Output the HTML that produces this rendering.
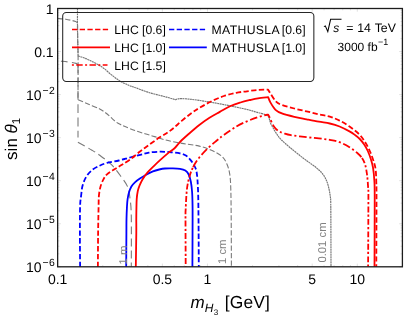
<!DOCTYPE html>
<html><head><meta charset="utf-8"><title>plot</title>
<style>html,body{margin:0;padding:0;background:#fff}body{width:407px;height:317px;overflow:hidden}</style>
</head><body>
<svg width="407" height="317" viewBox="0 0 407 317" style="display:block;font-family:'Liberation Sans',sans-serif;text-rendering:geometricPrecision;will-change:transform;transform:translateZ(0)">
<rect width="407" height="317" fill="#fff"/>
<defs><clipPath id="pc"><rect x="57.65" y="8.50" width="344.75" height="258.30"/></clipPath></defs>
<g stroke="#d9d9d9" stroke-width="0.8"><line x1="57.65" y1="266.8" x2="57.65" y2="263.6"/><line x1="57.65" y1="8.5" x2="57.65" y2="11.7"/><line x1="102.75" y1="266.8" x2="102.75" y2="265.0"/><line x1="102.75" y1="8.5" x2="102.75" y2="10.3"/><line x1="129.13" y1="266.8" x2="129.13" y2="265.0"/><line x1="129.13" y1="8.5" x2="129.13" y2="10.3"/><line x1="147.85" y1="266.8" x2="147.85" y2="265.0"/><line x1="147.85" y1="8.5" x2="147.85" y2="10.3"/><line x1="162.37" y1="266.8" x2="162.37" y2="263.6"/><line x1="162.37" y1="8.5" x2="162.37" y2="11.7"/><line x1="174.24" y1="266.8" x2="174.24" y2="265.0"/><line x1="174.24" y1="8.5" x2="174.24" y2="10.3"/><line x1="184.27" y1="266.8" x2="184.27" y2="265.0"/><line x1="184.27" y1="8.5" x2="184.27" y2="10.3"/><line x1="192.95" y1="266.8" x2="192.95" y2="265.0"/><line x1="192.95" y1="8.5" x2="192.95" y2="10.3"/><line x1="200.62" y1="266.8" x2="200.62" y2="265.0"/><line x1="200.62" y1="8.5" x2="200.62" y2="10.3"/><line x1="207.47" y1="266.8" x2="207.47" y2="263.6"/><line x1="207.47" y1="8.5" x2="207.47" y2="11.7"/><line x1="252.58" y1="266.8" x2="252.58" y2="265.0"/><line x1="252.58" y1="8.5" x2="252.58" y2="10.3"/><line x1="278.96" y1="266.8" x2="278.96" y2="265.0"/><line x1="278.96" y1="8.5" x2="278.96" y2="10.3"/><line x1="297.68" y1="266.8" x2="297.68" y2="265.0"/><line x1="297.68" y1="8.5" x2="297.68" y2="10.3"/><line x1="312.20" y1="266.8" x2="312.20" y2="263.6"/><line x1="312.20" y1="8.5" x2="312.20" y2="11.7"/><line x1="324.06" y1="266.8" x2="324.06" y2="265.0"/><line x1="324.06" y1="8.5" x2="324.06" y2="10.3"/><line x1="334.09" y1="266.8" x2="334.09" y2="265.0"/><line x1="334.09" y1="8.5" x2="334.09" y2="10.3"/><line x1="342.78" y1="266.8" x2="342.78" y2="265.0"/><line x1="342.78" y1="8.5" x2="342.78" y2="10.3"/><line x1="350.44" y1="266.8" x2="350.44" y2="265.0"/><line x1="350.44" y1="8.5" x2="350.44" y2="10.3"/><line x1="357.30" y1="266.8" x2="357.30" y2="263.6"/><line x1="357.30" y1="8.5" x2="357.30" y2="11.7"/><line x1="402.40" y1="266.8" x2="402.40" y2="265.0"/><line x1="402.40" y1="8.5" x2="402.40" y2="10.3"/><line x1="57.65" y1="8.50" x2="60.85" y2="8.50"/><line x1="402.4" y1="8.50" x2="399.2" y2="8.50"/><line x1="57.65" y1="38.59" x2="59.449999999999996" y2="38.59"/><line x1="402.4" y1="38.59" x2="400.59999999999997" y2="38.59"/><line x1="57.65" y1="31.01" x2="59.449999999999996" y2="31.01"/><line x1="402.4" y1="31.01" x2="400.59999999999997" y2="31.01"/><line x1="57.65" y1="25.63" x2="59.449999999999996" y2="25.63"/><line x1="402.4" y1="25.63" x2="400.59999999999997" y2="25.63"/><line x1="57.65" y1="21.46" x2="59.449999999999996" y2="21.46"/><line x1="402.4" y1="21.46" x2="400.59999999999997" y2="21.46"/><line x1="57.65" y1="18.05" x2="59.449999999999996" y2="18.05"/><line x1="402.4" y1="18.05" x2="400.59999999999997" y2="18.05"/><line x1="57.65" y1="15.17" x2="59.449999999999996" y2="15.17"/><line x1="402.4" y1="15.17" x2="400.59999999999997" y2="15.17"/><line x1="57.65" y1="12.67" x2="59.449999999999996" y2="12.67"/><line x1="402.4" y1="12.67" x2="400.59999999999997" y2="12.67"/><line x1="57.65" y1="10.47" x2="59.449999999999996" y2="10.47"/><line x1="402.4" y1="10.47" x2="400.59999999999997" y2="10.47"/><line x1="57.65" y1="51.55" x2="60.85" y2="51.55"/><line x1="402.4" y1="51.55" x2="399.2" y2="51.55"/><line x1="57.65" y1="81.64" x2="59.449999999999996" y2="81.64"/><line x1="402.4" y1="81.64" x2="400.59999999999997" y2="81.64"/><line x1="57.65" y1="74.06" x2="59.449999999999996" y2="74.06"/><line x1="402.4" y1="74.06" x2="400.59999999999997" y2="74.06"/><line x1="57.65" y1="68.68" x2="59.449999999999996" y2="68.68"/><line x1="402.4" y1="68.68" x2="400.59999999999997" y2="68.68"/><line x1="57.65" y1="64.51" x2="59.449999999999996" y2="64.51"/><line x1="402.4" y1="64.51" x2="400.59999999999997" y2="64.51"/><line x1="57.65" y1="61.10" x2="59.449999999999996" y2="61.10"/><line x1="402.4" y1="61.10" x2="400.59999999999997" y2="61.10"/><line x1="57.65" y1="58.22" x2="59.449999999999996" y2="58.22"/><line x1="402.4" y1="58.22" x2="400.59999999999997" y2="58.22"/><line x1="57.65" y1="55.72" x2="59.449999999999996" y2="55.72"/><line x1="402.4" y1="55.72" x2="400.59999999999997" y2="55.72"/><line x1="57.65" y1="53.52" x2="59.449999999999996" y2="53.52"/><line x1="402.4" y1="53.52" x2="400.59999999999997" y2="53.52"/><line x1="57.65" y1="94.60" x2="60.85" y2="94.60"/><line x1="402.4" y1="94.60" x2="399.2" y2="94.60"/><line x1="57.65" y1="124.69" x2="59.449999999999996" y2="124.69"/><line x1="402.4" y1="124.69" x2="400.59999999999997" y2="124.69"/><line x1="57.65" y1="117.11" x2="59.449999999999996" y2="117.11"/><line x1="402.4" y1="117.11" x2="400.59999999999997" y2="117.11"/><line x1="57.65" y1="111.73" x2="59.449999999999996" y2="111.73"/><line x1="402.4" y1="111.73" x2="400.59999999999997" y2="111.73"/><line x1="57.65" y1="107.56" x2="59.449999999999996" y2="107.56"/><line x1="402.4" y1="107.56" x2="400.59999999999997" y2="107.56"/><line x1="57.65" y1="104.15" x2="59.449999999999996" y2="104.15"/><line x1="402.4" y1="104.15" x2="400.59999999999997" y2="104.15"/><line x1="57.65" y1="101.27" x2="59.449999999999996" y2="101.27"/><line x1="402.4" y1="101.27" x2="400.59999999999997" y2="101.27"/><line x1="57.65" y1="98.77" x2="59.449999999999996" y2="98.77"/><line x1="402.4" y1="98.77" x2="400.59999999999997" y2="98.77"/><line x1="57.65" y1="96.57" x2="59.449999999999996" y2="96.57"/><line x1="402.4" y1="96.57" x2="400.59999999999997" y2="96.57"/><line x1="57.65" y1="137.65" x2="60.85" y2="137.65"/><line x1="402.4" y1="137.65" x2="399.2" y2="137.65"/><line x1="57.65" y1="167.74" x2="59.449999999999996" y2="167.74"/><line x1="402.4" y1="167.74" x2="400.59999999999997" y2="167.74"/><line x1="57.65" y1="160.16" x2="59.449999999999996" y2="160.16"/><line x1="402.4" y1="160.16" x2="400.59999999999997" y2="160.16"/><line x1="57.65" y1="154.78" x2="59.449999999999996" y2="154.78"/><line x1="402.4" y1="154.78" x2="400.59999999999997" y2="154.78"/><line x1="57.65" y1="150.61" x2="59.449999999999996" y2="150.61"/><line x1="402.4" y1="150.61" x2="400.59999999999997" y2="150.61"/><line x1="57.65" y1="147.20" x2="59.449999999999996" y2="147.20"/><line x1="402.4" y1="147.20" x2="400.59999999999997" y2="147.20"/><line x1="57.65" y1="144.32" x2="59.449999999999996" y2="144.32"/><line x1="402.4" y1="144.32" x2="400.59999999999997" y2="144.32"/><line x1="57.65" y1="141.82" x2="59.449999999999996" y2="141.82"/><line x1="402.4" y1="141.82" x2="400.59999999999997" y2="141.82"/><line x1="57.65" y1="139.62" x2="59.449999999999996" y2="139.62"/><line x1="402.4" y1="139.62" x2="400.59999999999997" y2="139.62"/><line x1="57.65" y1="180.70" x2="60.85" y2="180.70"/><line x1="402.4" y1="180.70" x2="399.2" y2="180.70"/><line x1="57.65" y1="210.79" x2="59.449999999999996" y2="210.79"/><line x1="402.4" y1="210.79" x2="400.59999999999997" y2="210.79"/><line x1="57.65" y1="203.21" x2="59.449999999999996" y2="203.21"/><line x1="402.4" y1="203.21" x2="400.59999999999997" y2="203.21"/><line x1="57.65" y1="197.83" x2="59.449999999999996" y2="197.83"/><line x1="402.4" y1="197.83" x2="400.59999999999997" y2="197.83"/><line x1="57.65" y1="193.66" x2="59.449999999999996" y2="193.66"/><line x1="402.4" y1="193.66" x2="400.59999999999997" y2="193.66"/><line x1="57.65" y1="190.25" x2="59.449999999999996" y2="190.25"/><line x1="402.4" y1="190.25" x2="400.59999999999997" y2="190.25"/><line x1="57.65" y1="187.37" x2="59.449999999999996" y2="187.37"/><line x1="402.4" y1="187.37" x2="400.59999999999997" y2="187.37"/><line x1="57.65" y1="184.87" x2="59.449999999999996" y2="184.87"/><line x1="402.4" y1="184.87" x2="400.59999999999997" y2="184.87"/><line x1="57.65" y1="182.67" x2="59.449999999999996" y2="182.67"/><line x1="402.4" y1="182.67" x2="400.59999999999997" y2="182.67"/><line x1="57.65" y1="223.75" x2="60.85" y2="223.75"/><line x1="402.4" y1="223.75" x2="399.2" y2="223.75"/><line x1="57.65" y1="253.84" x2="59.449999999999996" y2="253.84"/><line x1="402.4" y1="253.84" x2="400.59999999999997" y2="253.84"/><line x1="57.65" y1="246.26" x2="59.449999999999996" y2="246.26"/><line x1="402.4" y1="246.26" x2="400.59999999999997" y2="246.26"/><line x1="57.65" y1="240.88" x2="59.449999999999996" y2="240.88"/><line x1="402.4" y1="240.88" x2="400.59999999999997" y2="240.88"/><line x1="57.65" y1="236.71" x2="59.449999999999996" y2="236.71"/><line x1="402.4" y1="236.71" x2="400.59999999999997" y2="236.71"/><line x1="57.65" y1="233.30" x2="59.449999999999996" y2="233.30"/><line x1="402.4" y1="233.30" x2="400.59999999999997" y2="233.30"/><line x1="57.65" y1="230.42" x2="59.449999999999996" y2="230.42"/><line x1="402.4" y1="230.42" x2="400.59999999999997" y2="230.42"/><line x1="57.65" y1="227.92" x2="59.449999999999996" y2="227.92"/><line x1="402.4" y1="227.92" x2="400.59999999999997" y2="227.92"/><line x1="57.65" y1="225.72" x2="59.449999999999996" y2="225.72"/><line x1="402.4" y1="225.72" x2="400.59999999999997" y2="225.72"/><line x1="57.65" y1="266.80" x2="60.85" y2="266.80"/><line x1="402.4" y1="266.80" x2="399.2" y2="266.80"/></g>
<g clip-path="url(#pc)">
<path d="M77.50 8.50 C77.50 12.08 77.40 22.08 77.50 30.00 C77.60 37.92 78.00 51.67 78.10 56.00 C79.25 56.38 82.37 57.23 85.00 58.30 C87.63 59.37 90.93 60.85 93.90 62.40 C96.87 63.95 99.83 65.50 102.80 67.60 C105.77 69.70 108.73 72.70 111.70 75.00 C114.67 77.30 117.65 79.65 120.60 81.40 C123.55 83.15 126.78 84.40 129.40 85.50 C132.02 86.60 132.95 86.80 136.30 88.00 C139.65 89.20 144.85 91.28 149.50 92.70 C154.15 94.12 159.90 95.35 164.20 96.50 C168.50 97.65 173.45 99.08 175.30 99.60 C176.42 99.43 178.00 98.47 182.00 98.60 C186.00 98.73 192.32 99.40 199.30 100.40 C206.28 101.40 215.95 103.08 223.90 104.60 C231.85 106.12 241.43 108.20 247.00 109.50 C252.57 110.80 254.35 111.58 257.30 112.40 C260.25 113.22 262.92 113.77 264.70 114.40 C266.48 115.03 267.22 115.40 268.00 116.20 C268.78 117.00 268.93 117.95 269.40 119.20 C269.87 120.45 269.93 121.80 270.80 123.70 C271.67 125.60 273.40 128.58 274.60 130.60 C275.80 132.62 276.85 134.23 278.00 135.80 C279.15 137.37 279.57 138.10 281.50 140.00 C283.43 141.90 286.20 144.35 289.60 147.20 C293.00 150.05 298.53 154.48 301.90 157.10 C305.27 159.72 307.45 161.17 309.80 162.90 C312.15 164.63 313.93 165.77 316.00 167.50 C318.07 169.23 320.53 171.30 322.20 173.30 C323.87 175.30 324.98 177.38 326.00 179.50 C327.02 181.62 327.58 183.17 328.30 186.00 C329.02 188.83 329.88 192.83 330.30 196.50 C330.72 200.17 330.68 196.27 330.80 208.00 C330.92 219.73 330.97 257.08 331.00 266.90" fill="none" stroke="#767676" stroke-width="1.15" stroke-dasharray="2.0 0.5" stroke-linejoin="round"/>
<path d="M57.70 18.50 C59.05 18.62 62.82 18.70 65.80 19.20 C68.78 19.70 73.63 20.78 75.60 21.50 C77.57 22.22 77.27 23.17 77.60 23.50 C77.62 26.25 77.62 34.58 77.70 40.00 C77.78 45.42 78.05 46.05 78.10 56.00 C78.15 65.95 78.02 92.42 78.00 99.70 C79.67 100.42 84.45 102.48 88.00 104.00 C91.55 105.52 96.38 107.35 99.30 108.80 C102.22 110.25 103.63 111.33 105.50 112.70 C107.37 114.07 108.87 115.55 110.50 117.00 C112.13 118.45 113.72 120.18 115.30 121.40 C116.88 122.62 118.37 123.43 120.00 124.30 C121.63 125.17 122.62 125.57 125.10 126.60 C127.58 127.63 131.58 129.30 134.90 130.50 C138.22 131.70 141.72 132.78 145.00 133.80 C148.28 134.82 151.30 135.60 154.60 136.60 C157.90 137.60 160.23 138.67 164.80 139.80 C169.37 140.93 176.25 142.35 182.00 143.40 C187.75 144.45 194.37 144.95 199.30 146.10 C204.23 147.25 207.82 148.57 211.60 150.30 C215.38 152.03 219.43 154.17 222.00 156.50 C224.57 158.83 225.70 161.30 227.00 164.30 C228.30 167.30 229.17 170.33 229.80 174.50 C230.43 178.67 230.57 182.05 230.80 189.30 C231.03 196.55 231.10 205.07 231.20 218.00 C231.30 230.93 231.37 258.75 231.40 266.90" fill="none" stroke="#7a7a7a" stroke-width="1.1" stroke-dasharray="5.3 2.2" stroke-linejoin="round"/>
<path d="M60.90 61.20 C61.98 61.32 64.88 61.53 67.40 61.90 C69.92 62.27 74.25 62.88 76.00 63.40 C77.75 63.92 77.58 64.73 77.90 65.00" fill="none" stroke="#7a7a7a" stroke-width="1.1" stroke-dasharray="8.8 4.4" stroke-linejoin="round" stroke-dashoffset="2.1"/>
<path d="M78.00 64.60 C78.00 76.77 78.00 125.43 78.00 137.60" fill="none" stroke="#7a7a7a" stroke-width="1.1" stroke-dasharray="8.8 4.4" stroke-linejoin="round"/>
<path d="M77.90 142.30 C80.25 143.62 88.43 148.08 92.00 150.20 C95.57 152.32 96.02 152.55 99.30 155.00 C102.58 157.45 108.00 161.20 111.70 164.90 C115.40 168.60 118.83 173.52 121.50 177.20 C124.17 180.88 126.27 183.32 127.70 187.00 C129.13 190.68 129.50 194.37 130.10 199.30 C130.70 204.23 131.10 205.33 131.30 216.60 C131.50 227.87 131.30 258.52 131.30 266.90" fill="none" stroke="#7a7a7a" stroke-width="1.1" stroke-dasharray="7.8 4.2" stroke-linejoin="round"/>
<path d="M80.10 266.90 C80.07 261.25 79.90 243.15 79.90 233.00 C79.90 222.85 79.90 212.18 80.10 206.00 C80.30 199.82 80.68 199.30 81.10 195.90 C81.52 192.50 81.73 188.80 82.60 185.60 C83.47 182.40 84.70 179.30 86.30 176.70 C87.90 174.10 89.98 171.83 92.20 170.00 C94.42 168.17 97.13 166.88 99.60 165.70 C102.07 164.52 103.78 163.77 107.00 162.90 C110.22 162.03 115.07 161.40 118.90 160.50 C122.73 159.60 126.28 158.48 130.00 157.50 C133.72 156.52 138.05 155.42 141.20 154.60 C144.35 153.78 145.88 153.08 148.90 152.60 C151.92 152.12 155.85 151.78 159.30 151.70 C162.75 151.62 166.15 151.82 169.60 152.10 C173.05 152.38 177.28 152.82 180.00 153.40 C182.72 153.98 184.17 154.53 185.90 155.60 C187.63 156.67 189.05 158.20 190.40 159.80 C191.75 161.40 192.97 163.17 194.00 165.20 C195.03 167.23 195.93 167.98 196.60 172.00 C197.27 176.02 197.68 181.63 198.00 189.30 C198.32 196.97 198.37 205.07 198.50 218.00 C198.63 230.93 198.75 258.75 198.80 266.90" fill="none" stroke="#0000ff" stroke-width="1.8" stroke-dasharray="5.3 2.45" stroke-linejoin="round"/>
<path d="M126.20 266.90 C126.23 261.25 126.35 240.98 126.40 233.00 C126.45 225.02 126.40 223.50 126.50 219.00 C126.60 214.50 126.82 209.32 127.00 206.00 C127.18 202.68 127.28 201.30 127.60 199.10 C127.92 196.90 128.27 194.90 128.90 192.80 C129.53 190.70 130.35 188.28 131.40 186.50 C132.45 184.72 133.72 183.47 135.20 182.10 C136.68 180.73 138.40 179.57 140.30 178.30 C142.20 177.03 144.50 175.65 146.60 174.50 C148.70 173.35 150.80 172.23 152.90 171.40 C155.00 170.57 157.20 169.98 159.20 169.50 C161.20 169.02 162.67 168.68 164.90 168.50 C167.13 168.32 170.08 168.33 172.60 168.40 C175.12 168.47 177.88 168.53 180.00 168.90 C182.12 169.27 183.85 169.67 185.30 170.60 C186.75 171.53 187.77 172.60 188.70 174.50 C189.63 176.40 190.33 179.08 190.90 182.00 C191.47 184.92 191.83 188.50 192.10 192.00 C192.37 195.50 192.42 198.67 192.50 203.00 C192.58 207.33 192.62 207.35 192.60 218.00 C192.58 228.65 192.43 258.75 192.40 266.90" fill="none" stroke="#0000ff" stroke-width="1.8" stroke-linejoin="round"/>
<path d="M97.90 266.90 C97.93 261.25 97.98 243.15 98.10 233.00 C98.22 222.85 98.47 212.18 98.60 206.00 C98.73 199.82 98.60 199.07 98.90 195.90 C99.20 192.73 99.67 189.72 100.40 187.00 C101.13 184.28 102.20 181.70 103.30 179.60 C104.40 177.50 105.15 176.12 107.00 174.40 C108.85 172.68 111.92 170.90 114.40 169.30 C116.88 167.70 119.30 166.42 121.90 164.80 C124.50 163.18 126.98 161.82 130.00 159.60 C133.02 157.38 136.85 153.93 140.00 151.50 C143.15 149.07 145.68 147.32 148.90 145.00 C152.12 142.68 156.10 139.73 159.30 137.60 C162.50 135.47 165.55 133.93 168.10 132.20 C170.65 130.47 172.28 129.13 174.60 127.20 C176.92 125.27 179.12 123.00 182.00 120.60 C184.88 118.20 189.02 114.90 191.90 112.80 C194.78 110.70 196.02 109.93 199.30 108.00 C202.58 106.07 207.50 103.20 211.60 101.20 C215.70 99.20 219.80 97.40 223.90 96.00 C228.00 94.60 232.35 93.58 236.20 92.80 C240.05 92.02 243.37 91.78 247.00 91.30 C250.63 90.82 254.50 90.18 258.00 89.90 C261.50 89.62 266.33 89.65 268.00 89.60 C268.42 90.27 269.20 91.65 270.50 93.60 C271.80 95.55 273.90 99.40 275.80 101.30 C277.70 103.20 278.82 103.80 281.90 105.00 C284.98 106.20 290.18 107.43 294.30 108.50 C298.42 109.57 302.50 110.43 306.60 111.40 C310.70 112.37 315.03 113.42 318.90 114.30 C322.77 115.18 326.35 115.65 329.80 116.70 C333.25 117.75 336.32 118.97 339.60 120.60 C342.88 122.23 346.22 124.20 349.50 126.50 C352.78 128.80 356.68 131.78 359.30 134.40 C361.92 137.02 363.45 139.43 365.20 142.20 C366.95 144.97 368.47 148.03 369.80 151.00 C371.13 153.97 372.23 156.95 373.20 160.00 C374.17 163.05 375.08 165.53 375.60 169.30 C376.12 173.07 376.15 177.98 376.30 182.60 C376.45 187.22 376.50 182.95 376.50 197.00 C376.50 211.05 376.33 255.25 376.30 266.90" fill="none" stroke="#ff0000" stroke-width="1.8" stroke-dasharray="5.3 2.45" stroke-linejoin="round"/>
<path d="M135.80 266.90 C135.88 261.25 136.22 241.38 136.30 233.00 C136.38 224.62 136.23 222.25 136.30 216.60 C136.37 210.95 136.45 203.37 136.70 199.10 C136.95 194.83 137.32 193.30 137.80 191.00 C138.28 188.70 138.77 187.32 139.60 185.30 C140.43 183.28 141.43 181.08 142.80 178.90 C144.17 176.72 145.92 174.38 147.80 172.20 C149.68 170.02 152.10 167.77 154.10 165.80 C156.10 163.83 157.47 162.52 159.80 160.40 C162.13 158.28 165.60 155.17 168.10 153.10 C170.60 151.03 172.82 149.85 174.80 148.00 C176.78 146.15 177.65 144.37 180.00 142.00 C182.35 139.63 185.68 136.63 188.90 133.80 C192.12 130.97 195.87 127.67 199.30 125.00 C202.73 122.33 206.08 119.98 209.50 117.80 C212.92 115.62 216.38 113.83 219.80 111.90 C223.22 109.97 226.57 107.77 230.00 106.20 C233.43 104.63 237.07 103.53 240.40 102.50 C243.73 101.47 247.07 100.70 250.00 100.00 C252.93 99.30 254.97 98.78 258.00 98.30 C261.03 97.82 266.50 97.30 268.20 97.10 C268.58 98.02 269.28 100.48 270.50 102.60 C271.72 104.72 273.60 108.00 275.50 109.80 C277.40 111.60 278.77 112.23 281.90 113.40 C285.03 114.57 290.18 115.82 294.30 116.80 C298.42 117.78 302.50 118.48 306.60 119.30 C310.70 120.12 315.03 121.00 318.90 121.70 C322.77 122.40 326.35 122.70 329.80 123.50 C333.25 124.30 336.32 125.18 339.60 126.50 C342.88 127.82 346.93 129.98 349.50 131.40 C352.07 132.82 353.28 133.73 355.00 135.00 C356.72 136.27 358.27 137.42 359.80 139.00 C361.33 140.58 362.87 142.50 364.20 144.50 C365.53 146.50 366.68 148.53 367.80 151.00 C368.92 153.47 370.03 156.55 370.90 159.30 C371.77 162.05 372.43 164.05 373.00 167.50 C373.57 170.95 374.02 175.08 374.30 180.00 C374.58 184.92 374.67 182.52 374.70 197.00 C374.73 211.48 374.53 255.25 374.50 266.90" fill="none" stroke="#ff0000" stroke-width="1.8" stroke-linejoin="round"/>
<path d="M185.70 266.90 C185.67 258.75 185.50 227.65 185.50 218.00 C185.50 208.35 185.47 213.78 185.70 209.00 C185.93 204.22 186.28 194.65 186.90 189.30 C187.52 183.95 188.37 180.60 189.40 176.90 C190.43 173.20 191.45 170.33 193.10 167.10" fill="none" stroke="#ff0000" stroke-width="1.8" stroke-dasharray="5.9 2.1 2.2 2.2" stroke-linejoin="round" stroke-dashoffset="-3"/>
<path d="M193.10 167.10 C194.75 163.87 196.83 160.65 199.30 157.50 C201.77 154.35 205.03 150.98 207.90 148.20 C210.77 145.42 213.83 143.00 216.50 140.80 C219.17 138.60 220.62 137.37 223.90 135.00 C227.18 132.63 232.35 128.88 236.20 126.60 C240.05 124.32 243.48 122.83 247.00 121.30 C250.52 119.77 254.35 118.40 257.30 117.40 C260.25 116.40 262.88 115.77 264.70 115.30 C266.52 114.83 267.62 114.72 268.20 114.60 C268.45 115.10 268.97 116.00 269.70 117.60 C270.43 119.20 271.62 122.37 272.60 124.20 C273.58 126.03 274.45 127.38 275.60 128.60 C276.75 129.82 278.10 130.70 279.50 131.50 C280.90 132.30 282.08 132.78 284.00 133.40 C285.92 134.02 287.23 134.57 291.00 135.20 C294.77 135.83 301.95 136.67 306.60 137.20 C311.25 137.73 315.03 137.95 318.90 138.40 C322.77 138.85 326.35 139.27 329.80 139.90 C333.25 140.53 336.32 140.98 339.60 142.20 C342.88 143.42 346.55 145.40 349.50 147.20 C352.45 149.00 355.22 151.20 357.30 153.00 C359.38 154.80 360.68 156.03 362.00 158.00" fill="none" stroke="#ff0000" stroke-width="1.8" stroke-dasharray="7.7 2.6 2.1 2.6" stroke-linejoin="round"/>
<path d="M362.00 158.00 C363.32 159.97 364.35 161.93 365.20 164.80 C366.05 167.67 366.62 171.50 367.10 175.20 C367.58 178.90 367.88 183.37 368.10 187.00 C368.32 190.63 368.40 183.68 368.40 197.00 C368.40 210.32 368.15 255.25 368.10 266.90" fill="none" stroke="#ff0000" stroke-width="1.8" stroke-dasharray="5.9 2.1 2.2 2.2" stroke-linejoin="round"/>
</g>
<g fill="#808080" font-size="11.3px">
<text transform="translate(126.5,264.5) rotate(-90)">1 m</text>
<text transform="translate(225.9,264) rotate(-90)">1 cm</text>
<text transform="translate(325.9,262.6) rotate(-90)">0.01 cm</text>
</g>
<rect x="57.65" y="8.5" width="344.75" height="258.30" fill="none" stroke="#1c1c1c" stroke-width="1.3"/>
<rect x="62.7" y="12.5" width="251.15" height="68.95" rx="3.6" ry="3.6" fill="none" stroke="#262626" stroke-width="1.05"/>
<path d="M72 29.5H108.3" stroke="#ff0000" stroke-width="1.7" stroke-dasharray="5.3 2.4"/>
<path d="M72 47.3H110" stroke="#ff0000" stroke-width="1.7"/>
<path d="M71.9 65.0H107.5" stroke="#ff0000" stroke-width="1.7" stroke-dasharray="2 2.4 6.4 2.4"/>
<path d="M169 29.5H205.2" stroke="#0000ff" stroke-width="1.7" stroke-dasharray="5.3 2.4"/>
<path d="M169 47.3H206.8" stroke="#0000ff" stroke-width="1.7"/>
<g fill="#000" font-size="12.2px">
<text x="114.3" y="33.9">LHC [0.6]</text>
<text x="114.3" y="51.7">LHC [1.0]</text>
<text x="114.3" y="69.5">LHC [1.5]</text>
<text y="33.9"><tspan x="211.5" letter-spacing="0.38px">MATHUSLA</tspan><tspan x="281.8">[0.6]</tspan></text>
<text y="51.7"><tspan x="211.5" letter-spacing="0.38px">MATHUSLA</tspan><tspan x="281.8">[1.0]</tspan></text>
</g>
<g fill="#000" font-size="12px">
<path d="M323.9 26.6 L325.3 25.9 L327.8 31.6 L330.6 19.3 L341.5 19.3" fill="none" stroke="#000" stroke-width="1.05"/>
<text x="333.2" y="32.1" font-style="italic">s</text>
<text x="346.2" y="32.1" font-size="12.3px" word-spacing="0.5px">= 14 TeV</text>
<text x="337.6" y="50.9">3000 fb<tspan font-size="9px" dy="-5.6" dx="0.4">−1</tspan></text>
</g>
<g fill="#000" font-size="14px">
<text x="53.6" y="13.50" text-anchor="end">1</text>
<text x="53.6" y="56.55" text-anchor="end">0.1</text>
<text x="26.0" y="99.80">10<tspan font-size="10.4px" dy="-6.0" dx="1.0" letter-spacing="0.3px">−2</tspan></text>
<text x="26.0" y="142.85">10<tspan font-size="10.4px" dy="-6.0" dx="1.0" letter-spacing="0.3px">−3</tspan></text>
<text x="26.0" y="185.90">10<tspan font-size="10.4px" dy="-6.0" dx="1.0" letter-spacing="0.3px">−4</tspan></text>
<text x="26.0" y="228.95">10<tspan font-size="10.4px" dy="-6.0" dx="1.0" letter-spacing="0.3px">−5</tspan></text>
<text x="26.0" y="272.00">10<tspan font-size="10.4px" dy="-6.0" dx="1.0" letter-spacing="0.3px">−6</tspan></text>
<text x="57.65" y="284.0" text-anchor="middle">0.1</text>
<text x="162.37" y="284.0" text-anchor="middle">0.5</text>
<text x="207.47" y="284.0" text-anchor="middle">1</text>
<text x="312.20" y="284.0" text-anchor="middle">5</text>
<text x="357.30" y="284.0" text-anchor="middle">10</text>
</g>
<g fill="#000" font-size="17px">
<text transform="translate(16.5,159.9) rotate(-90)">sin <tspan font-style="italic">θ</tspan><tspan font-size="11.5px" dy="3.6">1</tspan></text>
<text x="190.4" y="308.2"><tspan font-style="italic">m</tspan><tspan font-style="italic" font-size="12px" dy="4.1" dx="0.2">H</tspan><tspan font-size="8px" dy="2.4" dx="0.3">3</tspan><tspan dy="-6.5" dx="6.6" font-size="17.4px" letter-spacing="0.15px">[GeV]</tspan></text>
</g>
</svg>
</body></html>
